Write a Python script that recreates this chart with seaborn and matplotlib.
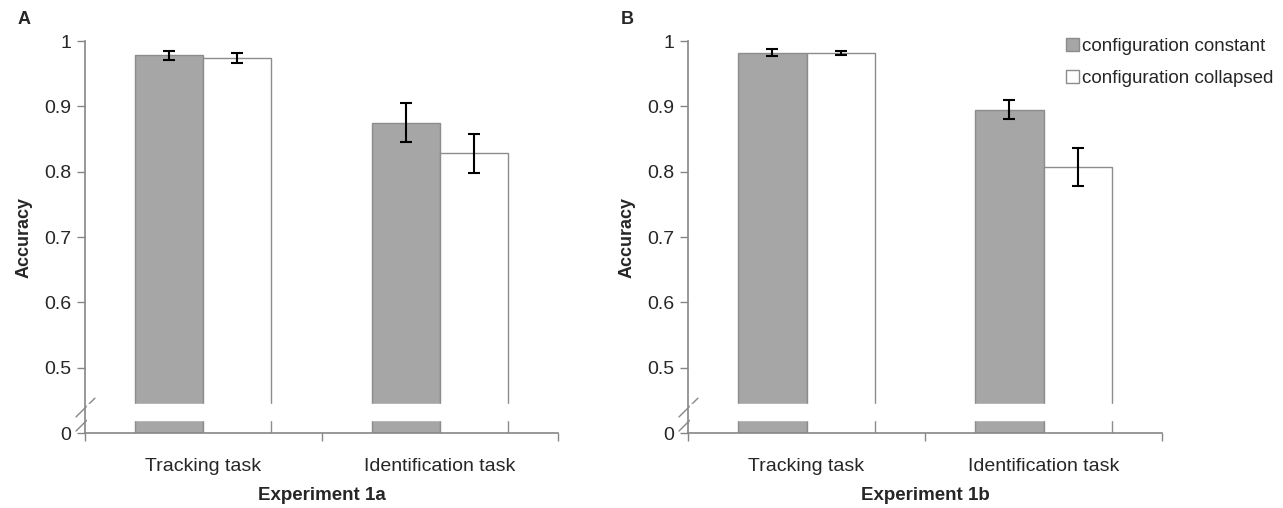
import seaborn as sns
import matplotlib.pyplot as plt
import matplotlib.patches as mpatches
import pandas as pd

# data
tasks = ['Tracking task', 'Identification task']
conditions = ['configuration constant', 'configuration collapsed']

exp1a_mean = {'configuration constant': [0.978, 0.875],
              'configuration collapsed': [0.974, 0.828]}
exp1a_err = {'configuration constant': [0.007, 0.030],
             'configuration collapsed': [0.008, 0.030]}

exp1b_mean = {'configuration constant': [0.982, 0.895],
              'configuration collapsed': [0.982, 0.807]}
exp1b_err = {'configuration constant': [0.005, 0.015],
             'configuration collapsed': [0.003, 0.029]}

panels = [('A', 'Experiment 1a', exp1a_mean, exp1a_err),
          ('B', 'Experiment 1b', exp1b_mean, exp1b_err)]

sns.set_style('white')
plt.rcParams['font.family'] = ['Liberation Sans', 'DejaVu Sans']

gray = '#a6a6a6'
edge = '#8c8c8c'
spine_col = '#868686'

fig = plt.figure(figsize=(12.83, 5.08), dpi=100)
W, H = 1283, 508
# axes positions in pixels: (left, right)
lefts = [(85, 558), (688, 1162)]
top_px, bot_px = 41, 433

for (letter, xlabel, means, errs), (l, r) in zip(panels, lefts):
    ax = fig.add_axes([l / W, 1 - bot_px / H, (r - l) / W, (bot_px - top_px) / H])
    rows = []
    for c in conditions:
        for t, m in zip(tasks, means[c]):
            rows.append({'task': t, 'condition': c, 'acc': m})
    df = pd.DataFrame(rows)
    sns.barplot(data=df, x='task', y='acc', hue='condition', order=tasks,
                hue_order=conditions, palette=[gray, 'white'], width=0.574,
                edgecolor=edge, linewidth=1.0, legend=False, ax=ax,
                errorbar=None, saturation=1)

    for cont, c in zip(ax.containers, conditions):
        xs = [b.get_x() + b.get_width() / 2 for b in cont]
        ax.errorbar(xs, means[c], yerr=errs[c], fmt='none', ecolor='black',
                    elinewidth=1.5, capsize=4, capthick=1.5, zorder=4)

    ax.set_xlim(-0.5, 1.5)
    ax.set_ylim(0.4, 1.0)
    # fake broken axis: 0 sits at the bottom, then the gap
    ax.set_yticks([0.4, 0.5, 0.6, 0.7, 0.8, 0.9, 1.0])
    ax.set_yticklabels(['0', '0.5', '0.6', '0.7', '0.8', '0.9', '1'])
    ax.axhspan(0.42, 0.444, xmin=0.004, xmax=1, color='white', zorder=2.4)
    for y0 in (0.005, 0.041):
        ax.plot([-0.019, 0.021], [y0, y0 + 0.048], color=spine_col, lw=1.0,
                transform=ax.transAxes, clip_on=False)

    ax.set_xticks([0, 1])
    ax.set_xticks([-0.5, 0.5, 1.5], minor=True)
    ax.tick_params(axis='x', which='major', length=0, pad=18, labelsize=14)
    ax.tick_params(axis='x', which='minor', length=6, direction='out',
                   color=spine_col, width=1, bottom=True)
    ax.tick_params(axis='y', length=6, direction='out', color=spine_col,
                   width=1, left=True, labelsize=14, pad=4)

    for s in ['top', 'right']:
        ax.spines[s].set_visible(False)
    for s in ['left', 'bottom']:
        ax.spines[s].set_color(spine_col)
        ax.spines[s].set_linewidth(1.2)

    ax.set_ylabel('Accuracy', fontsize=13, fontweight='bold', labelpad=8)
    ax.set_xlabel(xlabel, fontsize=13.5, fontweight='bold', labelpad=9)
    ax.text(-0.142, 1.055, letter, transform=ax.transAxes, fontsize=13,
            fontweight='bold', va='center', ha='left')

handles = [mpatches.Patch(facecolor=gray, edgecolor=edge, label=conditions[0]),
           mpatches.Patch(facecolor='white', edgecolor=edge, label=conditions[1])]
fig.legend(handles=handles, loc='upper left', bbox_to_anchor=(1058 / W, 1 - 30 / H),
           frameon=False, fontsize=13.5, handlelength=0.7, handleheight=0.7,
           handletextpad=0.2, labelspacing=0.8, borderaxespad=0)

fig.savefig('out.png', dpi=100)
